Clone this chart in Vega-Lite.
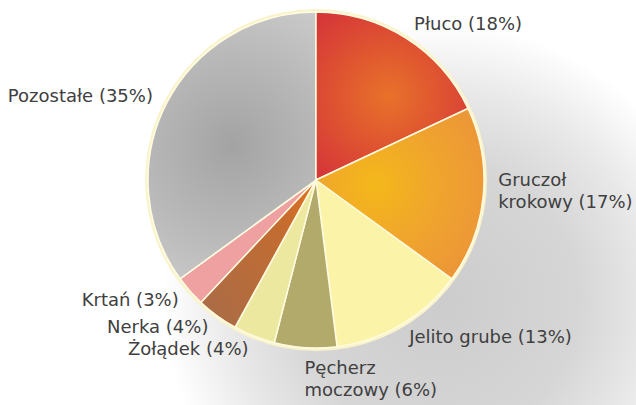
{
  "$schema": "https://vega.github.io/schema/vega-lite/v6.json",
  "width": 632,
  "height": 360,
  "autosize": "none",
  "padding": {"left": 0, "top": 0, "right": 4, "bottom": 45},
  "background": "white",
  "config": {"view": {"stroke": null}},
  "data": {
    "values": [
      {"order": 1, "name": "Płuco", "pct": 18, "label": "Płuco (18%)"},
      {"order": 2, "name": "Gruczoł krokowy", "pct": 17, "label": "Gruczoł\nkrokowy (17%)"},
      {"order": 3, "name": "Jelito grube", "pct": 13, "label": "Jelito grube (13%)"},
      {"order": 4, "name": "Pęcherz moczowy", "pct": 6, "label": "Pęcherz\nmoczowy (6%)"},
      {"order": 5, "name": "Żołądek", "pct": 4, "label": "Żołądek (4%)"},
      {"order": 6, "name": "Nerka", "pct": 4, "label": "Nerka (4%)"},
      {"order": 7, "name": "Krtań", "pct": 3, "label": "Krtań (3%)"},
      {"order": 8, "name": "Pozostałe", "pct": 35, "label": "Pozostałe (35%)"}
    ]
  },
  "layer": [
    {
      "data": {"values": [{"k": "shadow"}]},
      "mark": {
        "type": "arc", "outerRadius": 420,
        "fill": {
          "gradient": "radial", "x1": 0.648, "y1": 0.643, "r1": 0, "x2": 0.648, "y2": 0.643, "r2": 0.33,
          "stops": [
            {"offset": 0, "color": "#cccccc"},
            {"offset": 0.5, "color": "#d6d6d6"},
            {"offset": 0.75, "color": "#e8e8e8"},
            {"offset": 1, "color": "#ffffff"}
          ]
        }
      },
      "encoding": {}
    },
    {
      "data": {"values": [{"k": "glow"}]},
      "mark": {"type": "arc", "outerRadius": 171, "fill": "#faf4cc"},
      "encoding": {}
    },
    {
      "encoding": {
        "theta": {"field": "pct", "type": "quantitative", "stack": true},
        "order": {"field": "order", "type": "quantitative"}
      },
      "layer": [
        {
          "mark": {"type": "arc", "outerRadius": 168, "stroke": "#fffbe0", "strokeWidth": 1.5},
          "encoding": {
            "color": {
              "field": "name",
              "type": "nominal",
              "legend": null,
              "scale": {
                "domain": ["Płuco", "Gruczoł krokowy", "Jelito grube", "Pęcherz moczowy", "Żołądek", "Nerka", "Krtań", "Pozostałe"],
                "range": ["#dc4a30", "#efa830", "#faf3a8", "#b2aa6a", "#ede8a0", "#b46c40", "#efa0a0", "#b6b6b6"]
              }
            }
          }
        },
        {
          "mark": {"type": "arc", "outerRadius": 168, "stroke": "#fffbe0", "strokeWidth": 1.5},
          "encoding": {
            "fill": {
              "condition": {
                "test": "datum.name == 'Pozostałe'",
                "value": {
                  "gradient": "radial", "x1": 0.5, "y1": 0.5, "r1": 0, "x2": 0.5, "y2": 0.5, "r2": 0.6,
                  "stops": [{"offset": 0, "color": "#a3a3a3"}, {"offset": 0.55, "color": "#b8b8b8"}, {"offset": 1, "color": "#cbcbcb"}]
                }
              },
              "value": null
            },
            "strokeOpacity": {"condition": {"test": "datum.name == 'Pozostałe'", "value": 1}, "value": 0}
          }
        },
        {
          "mark": {"type": "arc", "outerRadius": 168, "stroke": "#fffbe0", "strokeWidth": 1.5},
          "encoding": {
            "fill": {
              "condition": {
                "test": "datum.name == 'Płuco'",
                "value": {
                  "gradient": "radial", "x1": 0.48, "y1": 0.5, "r1": 0, "x2": 0.48, "y2": 0.5, "r2": 0.6,
                  "stops": [{"offset": 0, "color": "#e8722a"}, {"offset": 0.5, "color": "#df5530"}, {"offset": 1, "color": "#d63838"}]
                }
              },
              "value": null
            },
            "strokeOpacity": {"condition": {"test": "datum.name == 'Płuco'", "value": 1}, "value": 0}
          }
        },
        {
          "mark": {"type": "arc", "outerRadius": 168, "stroke": "#fffbe0", "strokeWidth": 1.5},
          "encoding": {
            "fill": {
              "condition": {
                "test": "datum.name == 'Gruczoł krokowy'",
                "value": {
                  "gradient": "radial", "x1": 0.35, "y1": 0.45, "r1": 0, "x2": 0.35, "y2": 0.45, "r2": 0.7,
                  "stops": [{"offset": 0, "color": "#f4b81a"}, {"offset": 0.5, "color": "#f0a62c"}, {"offset": 1, "color": "#ec9638"}]
                }
              },
              "value": null
            },
            "strokeOpacity": {"condition": {"test": "datum.name == 'Gruczoł krokowy'", "value": 1}, "value": 0}
          }
        },
        {
          "mark": {"type": "arc", "outerRadius": 168, "stroke": "#fffbe0", "strokeWidth": 1.5},
          "encoding": {
            "fill": {
              "condition": {
                "test": "datum.name == 'Nerka'",
                "value": {
                  "gradient": "linear", "x1": 1, "y1": 0, "x2": 0, "y2": 1,
                  "stops": [{"offset": 0, "color": "#e2721e"}, {"offset": 0.3, "color": "#c46c30"}, {"offset": 1, "color": "#a86c48"}]
                }
              },
              "value": null
            },
            "strokeOpacity": {"condition": {"test": "datum.name == 'Nerka'", "value": 1}, "value": 0}
          }
        },
        {
          "mark": {"type": "text", "radius": 183, "align": "left", "baseline": "middle", "font": "DejaVu Sans", "fontSize": 18, "fill": "#404040"},
          "encoding": {
            "text": {"condition": {"test": "datum.name == 'Płuco' || datum.name == 'Jelito grube'", "field": "label"}, "value": ""}
          }
        },
        {
          "mark": {"type": "text", "radius": 183, "align": "left", "baseline": "middle", "dy": -16, "font": "DejaVu Sans", "fontSize": 18, "fill": "#404040", "lineBreak": "\n", "lineHeight": 22},
          "encoding": {
            "text": {"condition": {"test": "datum.name == 'Gruczoł krokowy'", "field": "label"}, "value": ""}
          }
        },
        {
          "mark": {"type": "text", "radius": 183, "align": "left", "baseline": "middle", "dy": 6, "font": "DejaVu Sans", "fontSize": 18, "fill": "#404040", "lineBreak": "\n", "lineHeight": 22},
          "encoding": {
            "text": {"condition": {"test": "datum.name == 'Pęcherz moczowy'", "field": "label"}, "value": ""}
          }
        },
        {
          "mark": {"type": "text", "radius": 183, "align": "right", "baseline": "middle", "font": "DejaVu Sans", "fontSize": 18, "fill": "#404040"},
          "encoding": {
            "text": {
              "condition": {"test": "indexof(['Płuco','Gruczoł krokowy','Jelito grube','Pęcherz moczowy'], datum.name) < 0", "field": "label"},
              "value": ""
            }
          }
        }
      ]
    }
  ]
}
